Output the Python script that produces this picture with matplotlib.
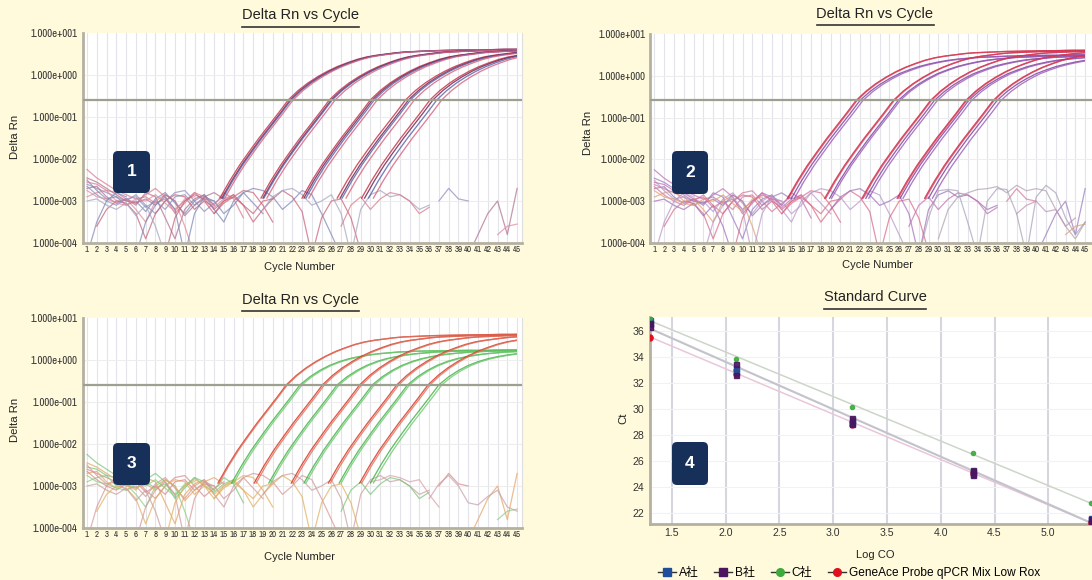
import numpy as np
import matplotlib.pyplot as plt
from matplotlib import font_manager
from matplotlib.font_manager import FontProperties
from matplotlib.lines import Line2D
from matplotlib.patches import FancyBboxPatch, Rectangle
from matplotlib.ticker import NullLocator
from matplotlib.transforms import IdentityTransform

plt.rcParams['font.family'] = ['Liberation Sans', 'Noto Sans CJK JP', 'DejaVu Sans']

# look for a condensed face for the crowded tick labels
narrow_path = None
for f in font_manager.fontManager.ttflist:
    fn = f.fname.lower()
    if 'liberationsansnarrow-regular' in fn or ('narrow' in fn and 'bold' not in fn and 'italic' not in fn):
        narrow_path = f.fname
        break
if narrow_path is None:
    for f in font_manager.fontManager.ttflist:
        fn = f.fname.lower()
        if 'dejavusanscondensed.ttf' in fn:
            narrow_path = f.fname
            break


def nfont(size):
    if narrow_path:
        return FontProperties(fname=narrow_path, size=size)
    return FontProperties(family='Liberation Sans', size=size * 0.82)


# ---------------- data ----------------
cycles = list(range(1, 46))
ytick_labels = ['1.000e-004', '1.000e-003', '1.000e-002', '1.000e-001', '1.000e+000', '1.000e+001']
threshold = 0.26

# amplification shape (log10 Delta Rn) vs cycles from the threshold crossing
tmpl_offsets = list(range(-7, 26))
tmpl_high = [-2.93, -2.52, -2.15, -1.82, -1.5, -1.2, -0.9, -0.59, -0.37, -0.19, -0.04, 0.09, 0.2,
             0.29, 0.37, 0.43, 0.47, 0.5, 0.53, 0.55, 0.56, 0.57, 0.58, 0.585, 0.59, 0.595, 0.6,
             0.6, 0.605, 0.61, 0.61, 0.615, 0.62]
tmpl_mid = [-2.93, -2.52, -2.15, -1.82, -1.5, -1.2, -0.9, -0.59, -0.38, -0.21, -0.07, 0.05, 0.14,
            0.22, 0.28, 0.33, 0.37, 0.4, 0.42, 0.44, 0.45, 0.46, 0.47, 0.475, 0.48, 0.485, 0.49,
            0.49, 0.495, 0.5, 0.5, 0.5, 0.5]
tmpl_low = [-2.93, -2.52, -2.15, -1.82, -1.5, -1.2, -0.9, -0.59, -0.4, -0.25, -0.13, -0.04, 0.03,
            0.08, 0.12, 0.15, 0.17, 0.19, 0.2, 0.21, 0.215, 0.22, 0.22, 0.225, 0.23, 0.23, 0.23,
            0.235, 0.235, 0.24, 0.24, 0.24, 0.24]

# threshold cycles per dilution group, replicates
p1_ct = [[21.6, 21.8, 21.9, 22.1], [25.8, 26.0, 26.1, 26.4], [30.0, 30.2, 30.4, 30.7],
         [33.6, 33.9, 34.1, 34.5], [36.1, 36.4, 36.8, 37.3]]
p2_ct_red = [[21.6, 21.7], [25.4, 25.5], [29.2, 29.3], [32.8, 32.9], [35.6, 35.7]]
p2_ct_purple = [[22.0, 22.3], [25.9, 26.1], [29.6, 29.9], [33.1, 33.4], [36.0, 36.4]]
p3_ct_red = [[21.4, 21.5], [25.1, 25.3], [28.9, 29.1], [32.7, 32.9], [35.9, 36.1]]
p3_ct_green = [[22.8, 23.0], [26.6, 26.8], [30.2, 30.4], [33.8, 34.0], [37.0, 37.3]]

# baseline noise traces: (first cycle, log10 values)
noise_pool = [
    (1, [-2.25, -2.45, -2.6, -2.75, -2.85, -2.95, -2.9, -3.05, -2.95, -3.2, -3.0, -2.8, -3.0, -3.15, -2.95, -2.85]),
    (1, [-2.6, -2.7, -2.8, -2.9, -3.0, -2.85, -3.1, -3.3, -3.0, -2.8, -2.75, -3.0, -3.25, -3.05, -2.9]),
    (1, [-2.7, -2.65, -2.9, -3.05, -2.95, -3.1, -2.8, -2.9, -3.4, -3.9, -3.2, -2.95, -2.85, -3.1]),
    (1, [-2.9, -2.8, -2.75, -3.0, -2.95, -3.2, -3.5, -3.0, -2.85, -3.0, -3.6, -4.3]),
    (1, [-2.5, -2.75, -2.95, -2.9, -3.1, -3.0, -3.25, -2.95, -2.8, -3.05, -3.3, -3.0, -2.85, -3.2, -3.5, -3.0, -2.8, -3.05, -3.3]),
    (2, [-3.6, -3.2, -3.0, -3.05, -3.3, -3.9, -3.3, -3.0, -2.85, -2.9, -3.2, -3.0, -3.3, -3.05, -2.9, -2.75, -2.8, -3.1, -3.5]),
    (1, [-3.0, -2.95, -3.1, -3.2, -3.05, -3.35, -3.1, -3.6, -4.3]),
    (1, [-2.55, -2.6, -2.75, -2.8, -2.95, -3.05, -2.85, -2.7, -2.9, -3.3, -3.05, -2.8, -2.9, -3.1, -2.8, -2.95, -3.4]),
    (1, [-2.65, -2.85, -3.0, -3.1, -2.95, -2.9, -3.15, -3.0, -3.2, -2.9, -2.85, -3.1, -2.95, -3.0]),
    (1, [-2.45, -2.55, -2.7, -2.85, -3.0, -3.05, -2.95, -3.1, -2.85, -3.0, -3.35, -3.1, -2.9, -2.8, -2.95]),
    (1, [-2.75, -2.9, -2.95, -3.05, -3.1, -2.95, -3.0, -2.85, -3.05, -3.25, -2.95, -2.9]),
    (6, [-4.3, -3.5, -3.1, -2.9, -3.2, -4.3, -3.3, -2.9, -3.0, -3.3, -3.1, -2.8, -2.7, -2.75, -2.9, -3.2, -3.0, -2.75, -2.85, -3.3, -3.8, -4.3]),
    (14, [-3.3, -3.0, -2.85, -3.1, -3.5, -3.2, -2.95, -2.75, -2.9, -3.25, -4.3, -3.4, -3.0, -2.95, -3.4, -4.2]),
    (19, [-3.2, -2.9, -2.75, -2.7, -2.85, -3.1, -3.0, -2.85, -3.3, -4.3, -3.2, -2.85, -2.75, -2.9, -2.85, -3.0, -3.2, -3.1]),
    (27, [-3.6, -3.1, -2.9, -3.2, -2.95, -2.8, -2.85, -3.0, -3.3, -3.15]),
    (37, [-3.0, -2.7, -2.95, -3.0]),
    (40, [-4.3, -3.8, -3.3, -3.0, -3.8, -2.7]),
    (43, [-3.8, -3.6, -3.55]),
    (1, [-4.3, -3.5, -3.0, -2.8, -2.9]),
    (9, [-4.3, -3.4, -3.0, -2.85, -2.95, -3.2, -3.0, -2.9, -3.1, -3.3, -3.0, -2.95]),
]
p2_late = [
    (28, [-4.3, -3.4, -2.75, -2.72, -2.75, -3.5, -4.3, -3.0, -2.7, -2.72, -3.3, -4.3, -2.9, -2.62, -2.8, -3.4, -3.8, -3.5]),
    (30, [-3.9, -3.2, -2.9, -2.8, -2.72, -2.7, -2.65, -2.8, -2.62, -2.75, -2.7, -2.75, -3.2, -3.6, -3.9, -3.5]),
    (38, [-3.3, -3.1, -3.0, -3.25, -3.2, -3.6, -3.4]),
]
p3_late = [
    (30, [-2.9, -2.85, -2.75, -2.8, -2.9, -2.85, -3.2, -3.5]),
    (36, [-3.3, -2.95, -2.75, -3.0, -3.4, -3.45, -3.25, -3.1, -3.5, -3.6]),
]

# standard curve
log_co = [1.3, 2.1, 3.18, 4.3, 5.4]
ct_a = [[36.8, 36.5], [33.1, 32.8], [29.1, 28.9], [25.2, 25.0], [21.6, 21.5]]
ct_b = [[36.6, 36.3], [33.4, 32.6], [29.3, 28.8], [25.3, 24.9], [21.5, 21.3]]
ct_c = [[37.0], [33.8], [30.15], [26.57], [22.77]]
ct_gene = [[35.5, 35.4], [33.0, 32.7], [29.0, 28.75], [25.1, 24.95], [21.25, 21.2]]
series_names = ['A社', 'B社', 'C社', 'GeneAce Probe qPCR Mix Low Rox']

# ---------------- figure ----------------
W, H = 1092, 580
BG = '#FFFADC'
fig = plt.figure(figsize=(W / 100, H / 100), dpi=100, facecolor=BG)


def box(l, t, r, b):
    return [l / W, 1 - b / H, (r - l) / W, (b - t) / H]


def amp_axes(rect, xmax, right_spine=True):
    ax = fig.add_axes(box(*rect))
    ax.set_facecolor('white')
    ax.set_yscale('log')
    ax.set_ylim(1e-4, 1e1)
    ax.set_xlim(0.55, xmax)
    ax.set_xticks(cycles)
    ax.set_xticklabels([str(c) for c in cycles], fontproperties=nfont(6.4), color='#333333')
    ax.set_yticks([10.0 ** k for k in range(-4, 2)])
    ax.set_yticklabels(ytick_labels, fontproperties=nfont(7.8), color='#333333')
    ax.yaxis.set_minor_locator(NullLocator())
    ax.tick_params(length=0)
    ax.tick_params(axis='x', pad=1.5)
    ax.tick_params(axis='y', pad=3.5)
    for c in cycles:
        ax.axvline(c, color='#E3E3EA', lw=0.8, zorder=0)
    for k in range(-3, 1):
        ax.axhline(10.0 ** k, color='#EDEDED', lw=0.8, zorder=0)
    ax.spines['top'].set_visible(False)
    ax.spines['right'].set_visible(right_spine)
    ax.spines['right'].set_color('#DDDDDD')
    for s in ['left', 'bottom']:
        ax.spines[s].set_color('#B5B1A0')
        ax.spines[s].set_linewidth(2)
    ax.axhline(threshold, color='#9DA08E', lw=1.6, zorder=4)
    return ax


def draw_noise(ax, traces, colors):
    for i, (start, vals) in enumerate(traces):
        x = np.arange(start, start + len(vals))
        ax.plot(x, 10.0 ** np.array(vals), color=colors[i % len(colors)], lw=0.9, alpha=0.72, zorder=2)


def draw_amp(ax, groups, tmpl, colors):
    clip = Rectangle((0, 1e-6), 45, 1e3, transform=ax.transData)
    for reps in groups:
        for j, ct in enumerate(reps):
            x = ct + np.array(tmpl_offsets)
            ln, = ax.plot(x, 10.0 ** np.array(tmpl), color=colors[j % len(colors)], lw=0.95,
                          alpha=0.8, zorder=3)
            ln.set_clip_path(clip)


# panel 1
ax1 = amp_axes((82.6, 33, 522, 243), 45.5)
draw_noise(ax1, noise_pool, ['#D77A8E', '#8C8FC0', '#B0708E', '#E08A9A', '#7F86B5', '#C86078', '#A5A5C0'])
draw_amp(ax1, p1_ct, tmpl_high, ['#C42A40', '#6C1E4C', '#5461A6', '#D9607C'])

# panel 2
ax2 = amp_axes((650, 34, 1092, 243), 45.7, right_spine=False)
draw_noise(ax2, noise_pool, ['#C070B0', '#D2789A', '#9A7ABF', '#E0A070', '#B898C8', '#D86A88', '#A070B8'])
draw_noise(ax2, p2_late, ['#A8A2B8', '#B0A0B0', '#C090B0'])
draw_amp(ax2, p2_ct_purple, tmpl_mid, ['#7A3C9C', '#9A5AB8'])
draw_amp(ax2, p2_ct_red, tmpl_high, ['#C8203E', '#D8405A'])

# panel 3
ax3 = amp_axes((82.6, 318, 522, 528), 45.5)
draw_noise(ax3, noise_pool, ['#7CC47C', '#DA8A8A', '#E3A468', '#90CC80', '#D49898', '#E0B060', '#C8A0A0'])
draw_noise(ax3, p3_late, ['#D8A0A8', '#C8A0A8'])
draw_amp(ax3, p3_ct_green, tmpl_low, ['#3CB040', '#70C870'])
draw_amp(ax3, p3_ct_red, tmpl_high, ['#D2301E', '#E0705A'])

# panel 4: standard curve
ax4 = fig.add_axes(box(650, 317, 1092, 524))
ax4.set_facecolor('white')
ax4.set_xlim(1.298, 5.406)
ax4.set_ylim(21.13, 37.05)
xt = [1.5, 2.0, 2.5, 3.0, 3.5, 4.0, 4.5, 5.0]
ax4.set_xticks(xt)
ax4.set_xticklabels([f'{v:.1f}' for v in xt], fontsize=7.6, color='#333333')
yt = list(range(22, 37, 2))
ax4.set_yticks(yt)
ax4.set_yticklabels([str(v) for v in yt], fontsize=7.6, color='#333333')
ax4.tick_params(length=0)
ax4.tick_params(axis='x', pad=3)
ax4.tick_params(axis='y', pad=4)
for v in xt:
    ax4.axvline(v, color='#D6D6E0', lw=1.5, zorder=0)
for v in yt:
    ax4.axhline(v, color='#F2F2F2', lw=0.8, zorder=0)
ax4.spines['top'].set_visible(False)
ax4.spines['right'].set_visible(False)
for s in ['left', 'bottom']:
    ax4.spines[s].set_color('#B5B1A0')
    ax4.spines[s].set_linewidth(2)

series = [ct_gene, ct_a, ct_c, ct_b]
s_colors = ['#E0101E', '#1F4E9C', '#3DAA3D', '#4B1560']
s_markers = ['o', 's', 'o', 's']
fit_colors = ['#EAC6DA', '#CACAD0', '#CCD6C8', '#C2C2CA']
xline = np.array(ax4.get_xlim())
for data, fc in zip(series, fit_colors):
    xs = [x for x, reps in zip(log_co, data) for _ in reps]
    ys = [v for reps in data for v in reps]
    slope, icpt = np.polyfit(xs, ys, 1)
    ax4.plot(xline, slope * xline + icpt, color=fc, lw=1.1, zorder=1)
for data, col, mk in zip(series, s_colors, s_markers):
    xs = [x for x, reps in zip(log_co, data) for _ in reps]
    ys = [v for reps in data for v in reps]
    ax4.plot(xs, ys, ls='none', marker=mk, ms=3.6 if col != '#3DAA3D' else 3,
             color=col, alpha=0.9, zorder=3)

# legend
handles = [Line2D([], [], color='#333333', lw=1, marker='s', mfc='#1F4E9C', mec='#1F4E9C', ms=5.5),
           Line2D([], [], color='#333333', lw=1, marker='s', mfc='#4B1560', mec='#4B1560', ms=5.5),
           Line2D([], [], color='#333333', lw=1, marker='o', mfc='#3DAA3D', mec='#3DAA3D', ms=5.5),
           Line2D([], [], color='#333333', lw=1, marker='o', mfc='#E0101E', mec='#E0101E', ms=5.5)]
fig.legend(handles, series_names, loc='center', bbox_to_anchor=(849 / W, 1 - 573 / H), ncol=4,
           frameon=False, fontsize=8.6, handlelength=1.5, handletextpad=0.25, columnspacing=1.3,
           borderpad=0, borderaxespad=0)

# labels
TXT = '#222222'
titles = [('Delta Rn vs Cycle', 300, 15, 27), ('Delta Rn vs Cycle', 875, 14, 25),
          ('Delta Rn vs Cycle', 300, 300, 311), ('Standard Curve', 875, 297, 309)]
title_objs = []
for s, cx, cy, uy in titles:
    t = fig.text(cx / W, 1 - cy / H, s, ha='center', va='center', fontsize=10.5, color=TXT)
    title_objs.append((t, uy))

for s, cx, cy in [('Delta Rn', 15, 137), ('Delta Rn', 588, 133), ('Delta Rn', 15, 420), ('Ct', 623, 418)]:
    fig.text(cx / W, 1 - cy / H, s, ha='center', va='center', rotation=90, fontsize=8.2, color=TXT)
for s, cx, cy in [('Cycle Number', 300, 267), ('Cycle Number', 877, 265), ('Cycle Number', 300, 557),
                  ('Log CO', 875, 555)]:
    fig.text(cx / W, 1 - cy / H, s, ha='center', va='center', fontsize=8, color=TXT)

# numbered badges
for num, (l, t, r, b) in zip(['1', '2', '3', '4'],
                             [(113, 151, 150, 193), (672, 151, 708, 194),
                              (113, 443, 150, 485), (672, 442, 708, 485)]):
    patch = FancyBboxPatch((l, H - b), r - l, b - t, boxstyle='round,pad=0,rounding_size=5',
                           transform=IdentityTransform(), facecolor='#17305A', edgecolor='none',
                           zorder=10)
    fig.add_artist(patch)
    fig.text((l + r) / 2 / W, 1 - (t + b) / 2 / H, num, ha='center', va='center', color='white',
             fontsize=12.5, fontweight='bold', zorder=11)

# underline titles
fig.canvas.draw()
for t, uy in title_objs:
    bb = t.get_window_extent()
    fig.add_artist(Line2D([bb.x0, bb.x1], [H - uy, H - uy], transform=IdentityTransform(),
                          color='#333333', lw=1.2))

fig.savefig('out.png', dpi=100, facecolor=BG)
